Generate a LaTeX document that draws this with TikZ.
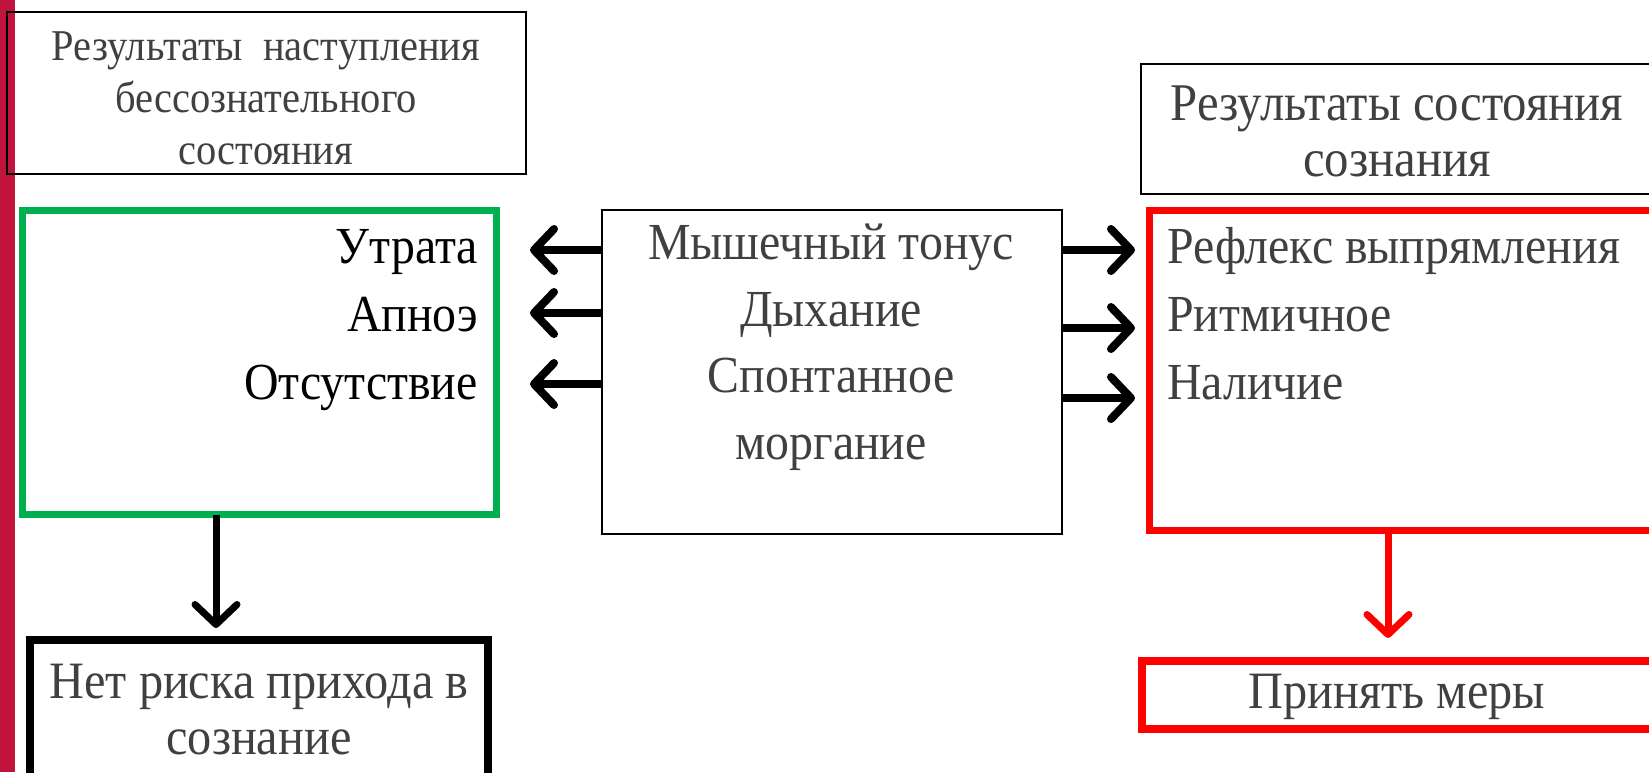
\documentclass[tikz,border=0pt]{standalone}
\usepackage{fontspec}
\setmainfont[FakeStretch=0.92]{Liberation Serif}
\usetikzlibrary{arrows.meta}
\definecolor{barred}{RGB}{192,20,60}
\definecolor{okgreen}{RGB}{0,176,80}
\definecolor{txtgrey}{RGB}{64,64,64}

\begin{document}
\begin{tikzpicture}[x=1pt,y=-1pt,
		box/.style={draw,inner sep=0pt,outer sep=0pt},
		arr/.style={line width=8pt,-{Straight Barb[length=20pt,width=42pt,round]}},
		big/.style={font=\fontsize{52}{66}\selectfont,inner sep=0pt},
		head/.style={font=\fontsize{44}{52}\selectfont,text=txtgrey,align=center,inner sep=0pt}
		]
		\useasboundingbox (0,0) rectangle (1649,772);
		\fill[barred] (0,0) rectangle (15,772);
		
		% headings
		\node[box,line width=2pt,minimum width=519pt,minimum height=162pt] (hunc) at (266,92.5) {};
		\node[head] (hunct) at (266,98) {Результаты\ \ наступления\\бессознательного\\состояния};
		\node[box,line width=2pt,minimum width=539pt,minimum height=130pt] (hcon) at (1410,128.5) {};
		\node[head,font=\fontsize{53}{56}\selectfont] (hcont) at (1397,131) {Результаты состояния\\сознания};
		
		% the three boxes
		\node[box,draw=okgreen,line width=7pt,minimum width=474pt,minimum height=304pt] (lost) at (259.5,362.5) {};
		\node[box,line width=2.5pt,minimum width=460pt,minimum height=324pt] (mid) at (832,372) {};
		\node[box,draw=red,line width=7pt,minimum width=540pt,minimum height=320pt] (kept) at (1419.5,370.5) {};
		
		\foreach \t/\y [count=\i] in {Утрата/250,Апноэ/318,Отсутствие/386}
			\node[big,anchor=east] (l\i) at (478,\y) {\strut\t};
		\foreach \t/\y [count=\i] in {Рефлекс выпрямления/250,Ритмичное/318,Наличие/386}
			\node[big,anchor=west,text=txtgrey] (r\i) at (1167,\y) {\strut\t};
		\node[big,text=txtgrey,align=center,font=\fontsize{52}{66.5}\selectfont] (midt) at (831,347)
			{Мышечный тонус\\Дыхание\\Спонтанное\\моргание};
		
		% arrows out of the middle box
		\foreach \y [count=\i] in {250,313,384} {
			\coordinate (a\i) at (530,\y);
			\draw[arr] (mid.west |- a\i) -- (a\i);
		}
		\foreach \y [count=\i] in {250,328,398} {
			\coordinate (b\i) at (1135,\y);
			\draw[arr] (mid.east |- b\i) -- (b\i);
		}
		
		% outcomes
		\node[box,line width=8pt,minimum width=458pt,minimum height=150pt] (norisk) at (259,715) {};
		\node[head,font=\fontsize{52.5}{56}\selectfont] (noriskt) at (259,710) {Нет риска прихода в\\сознание};
		\node[box,draw=red,line width=8pt,minimum width=538pt,minimum height=68pt] (act) at (1411,695) {};
		\node[head,font=\fontsize{52.5}{56}\selectfont] (actt) at (1397,697) {Принять меры};
		
		\coordinate (dl) at (216,628);
		\coordinate (dr) at (1388,638);
		\draw[arr,line width=7pt] (dl |- lost.south) -- (dl);
		\draw[arr,line width=7pt,red] (dr |- kept.south) -- (dr);
	\end{tikzpicture}
\end{document}
